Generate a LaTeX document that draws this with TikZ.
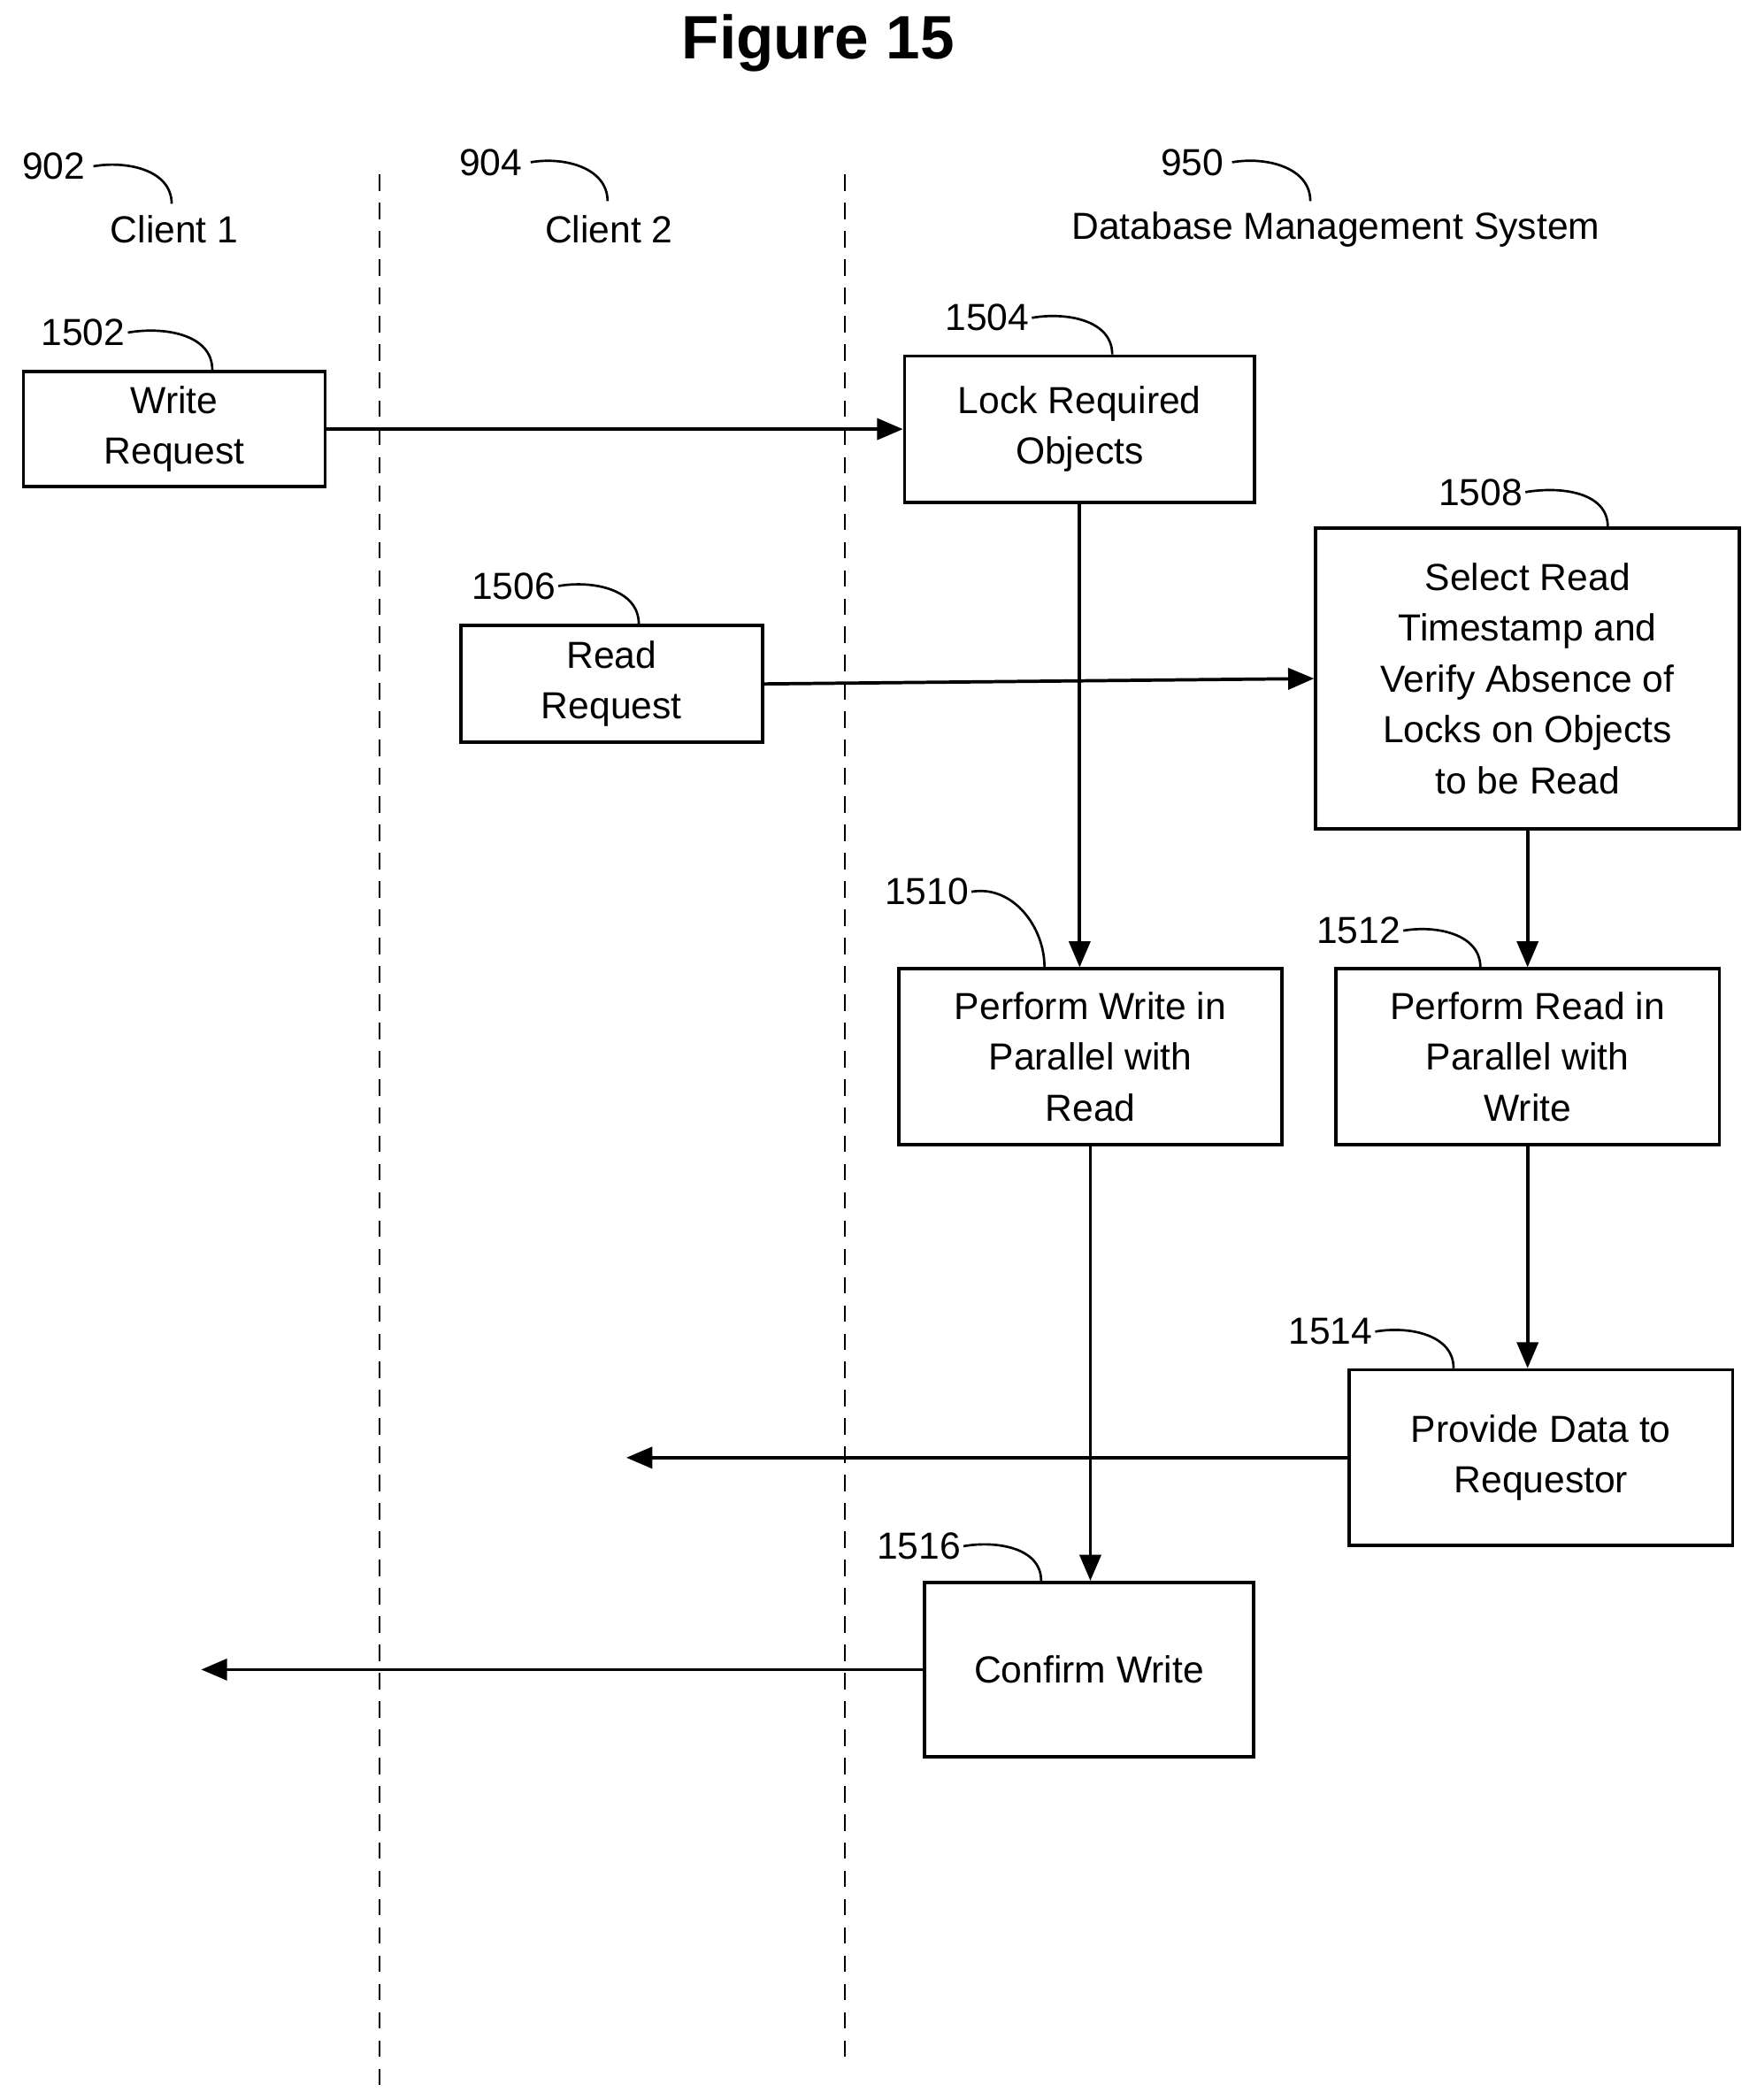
\documentclass[tikz,border=0pt]{standalone}
\usepackage{fontspec}
\setmainfont{Liberation Sans}
\usetikzlibrary{arrows.meta, positioning, calc}

\begin{document}
\begin{tikzpicture}[x=0.02cm, y=-0.02cm,
    stage/.style={rectangle, draw, line width=1.4pt, align=center, inner sep=0pt,
                 font=\fontsize{16}{21.6}\selectfont},
    refnum/.style={font=\fontsize{16}{19}\selectfont, inner sep=1pt},
    lane/.style={font=\fontsize{16}{19}\selectfont},
    flow/.style={-{Triangle[length=11pt,width=9pt]}, line width=1.4pt},
    leader/.style={line width=1pt},
    divider/.style={line width=1pt, dash pattern=on 7pt off 5pt}
]
\useasboundingbox (0,0) rectangle (1310,1566);

% Title and lanes
\node[font=\fontsize{26}{30}\selectfont\bfseries] (title) at (610,32) {Figure 15};
\node[lane] (client1) at (130,171) {Client 1};
\node[lane] (client2) at (454,171) {Client 2};
\node[lane] (dbms) at (996,171) {Database Management System};
\coordinate (divAtop) at (283,130); \coordinate (divAbot) at (283,1555);
\coordinate (divBtop) at (630,130); \coordinate (divBbot) at (630,1535);
\draw[divider] (divAtop) -- (divAbot);
\draw[divider] (divBtop) -- (divBbot);

% Stages
\node[stage, minimum width=4.5cm, minimum height=1.72cm] (write) at (130,320) {Write\\Request};
\node[stage, minimum width=5.22cm, minimum height=2.18cm] (lock) at (805,320) {Lock Required\\Objects};
\node[stage, minimum width=6.32cm, minimum height=4.48cm] (select) at (1139,506) {Select Read\\Timestamp and\\Verify Absence of\\Locks on Objects\\to be Read};
\node[stage, minimum width=4.5cm, minimum height=1.74cm] (read) at (456,510) {Read\\Request};
\node[stage, minimum width=5.72cm, minimum height=2.62cm] (pwrite) at (813,788) {Perform Write in\\Parallel with\\Read};
\node[stage, minimum width=5.72cm, minimum height=2.62cm] (pread) at (1139,788) {Perform Read in\\Parallel with\\Write};
\node[stage, minimum width=5.72cm, minimum height=2.62cm] (provide) at (1149,1087) {Provide Data to\\Requestor};
\node[stage, minimum width=4.9cm, minimum height=2.6cm] (confirm) at (812,1245) {Confirm Write};

% Reference numerals
\node[lane] (n902) at (40,124) {902};
\node[lane] (n904) at (366,121) {904};
\node[lane] (n950) at (889,121) {950};
\node[refnum] (n1502) at (62,248) {1502};
\node[refnum] (n1504) at (736,237) {1504};
\node[refnum] (n1508) at (1104,367) {1508};
\node[refnum] (n1506) at (383,437) {1506};
\node[refnum] (n1510) at (691,665) {1510};
\node[refnum] (n1512) at (1013,694) {1512};
\node[refnum] (n1514) at (992,993) {1514};
\node[refnum] (n1516) at (685,1153) {1516};

\draw[leader] (n902.east) to[out=10,in=90] (128,152);
\draw[leader] (n904.east) to[out=10,in=90] (453,150);
\draw[leader] (n950.east) to[out=10,in=90] (977,150);
\draw[leader] (n1502.east) to[out=10,in=90] ($(write.north west)+(142,0)$);
\draw[leader] (n1504.east) to[out=10,in=90] ($(lock.north west)+(156,0)$);
\draw[leader] (n1508.east) to[out=10,in=90] ($(select.north west)+(219,0)$);
\draw[leader] (n1506.east) to[out=10,in=90] ($(read.north west)+(134,0)$);
\draw[leader] (n1510.east) to[out=10,in=90] ($(pwrite.north west)+(110,0)$);
\draw[leader] (n1512.east) to[out=10,in=90] ($(pread.north west)+(109,0)$);
\draw[leader] (n1514.east) to[out=10,in=90] ($(provide.north west)+(79,0)$);
\draw[leader] (n1516.east) to[out=10,in=90] ($(confirm.north west)+(88,0)$);

% Flow
\coordinate (toClient2) at (467,1087);
\coordinate (toClient1) at (150,1245);
\draw[flow] (write.east) -- (lock.west);
\draw[flow] (read.east) -- (select.west);
\draw[flow] (lock.south) -- (lock.south |- pwrite.north);
\draw[flow] (select.south) -- (pread.north);
\draw[flow] (pread.south) -- (pread.south |- provide.north);
\draw[flow] (pwrite.south) -- (pwrite.south |- confirm.north);
\draw[flow] (provide.west) -- (toClient2);
\draw[flow] (confirm.west) -- (toClient1);
\end{tikzpicture}
\end{document}
